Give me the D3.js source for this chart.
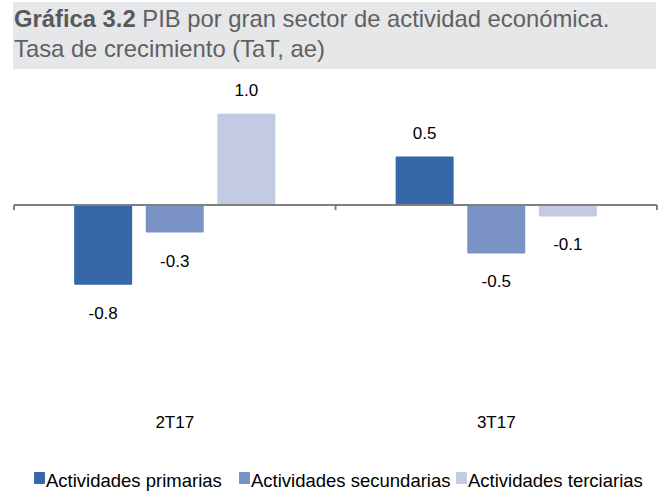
<!DOCTYPE html>
<html>
<head>
<meta charset="utf-8">
<script src="https://cdn.jsdelivr.net/npm/d3@7"></script>
<style>
  body { margin: 0; background: #fff; }
  svg { display: block; font-family: "Liberation Sans", Arial, sans-serif; }
</style>
</head>
<body>
<svg id="chart"></svg>
<script>
    // Data
    var periods = ["2T17", "3T17"]
    var seriesNames = ["Actividades primarias", "Actividades secundarias", "Actividades terciarias"]
    var primarias = [-0.84, 0.51]
    var secundarias = [-0.29, -0.51]
    var terciarias = [0.96, -0.12]
    var colors = ["#3668a9", "#7a93c4", "#c3cbe3"]

    var allSeries = [primarias, secundarias, terciarias]

    var width = 662, height = 501

    // plain hyphen for negatives, like the source
    var fmt = d3.formatLocale({decimal: ".", thousands: ",", grouping: [3], currency: ["", ""], minus: "-"}).format(".1f")

    var svg = d3.select("#chart")
        .attr("width", width)
        .attr("height", height)

    // Title band
    svg.append("rect")
        .attr("x", 13)
        .attr("y", 2)
        .attr("width", 643)
        .attr("height", 67)
        .attr("fill", "#e6e7e8");

    var title = svg.append("text")
        .attr("x", 14)
        .attr("y", 27)
        .style("font-size", "23.8px")
        .attr("fill", "#5f6062");
    title.append("tspan").style("font-weight", "bold").attr("fill", "#58595b").text("Gráfica 3.2");
    title.append("tspan").text(" PIB por gran sector de actividad económica.");
    svg.append("text")
        .attr("x", 14)
        .attr("y", 57)
        .style("font-size", "23.8px")
        .attr("fill", "#5f6062")
        .text("Tasa de crecimiento (TaT, ae)");

    // Scales
    var x0 = d3.scaleBand()
        .domain(periods)
        .range([14, 657])
        .padding(0);

    var x1 = d3.scaleBand()
        .domain(seriesNames)
        .range([0, x0.bandwidth()])
        .paddingInner(0.19)
        .paddingOuter(0.84);

    var y = d3.scaleLinear()
        .domain([-1.5, 1.2])
        .range([347.5, 91]);

    // Bars
    var groups = svg.selectAll(".grp")
        .data(periods)
        .enter()
        .append("g")
        .attr("class", "grp")
        .attr("transform", (d) => "translate(" + x0(d) + ",0)");

    groups.each(function(p, i) {
        var g = d3.select(this)
        var rows = seriesNames.map((s, j) => ({ name: s, value: allSeries[j][i], color: colors[j] }))

        g.selectAll("rect")
            .data(rows)
            .enter()
            .append("rect")
            .attr("x", (d) => x1(d.name))
            .attr("y", (d) => y(Math.max(0, d.value)))
            .attr("width", x1.bandwidth())
            .attr("height", (d) => Math.abs(y(d.value) - y(0)))
            .attr("rx", 1)
            .attr("fill", (d) => d.color);

        g.selectAll(".lbl")
            .data(rows)
            .enter()
            .append("text")
            .attr("class", "lbl")
            .attr("x", (d) => x1(d.name) + x1.bandwidth() / 2)
            .attr("y", (d) => d.value >= 0 ? y(d.value) - 18 : y(d.value) + 34)
            .style("text-anchor", "middle")
            .style("font-size", "17px")
            .attr("fill", "#000")
            .text((d) => fmt(d.value));
    });

    // Zero axis with ticks between categories
    var xAxis = svg.append("g")
        .attr("transform", "translate(0," + y(0) + ")")
        .call(d3.axisBottom(x0).tickSize(0).tickFormat(""));
    xAxis.select(".domain").remove();
    xAxis.append("line")
        .attr("x1", 14).attr("x2", 657)
        .attr("stroke", "#808080")
        .attr("stroke-width", 2);
    xAxis.selectAll(".sep")
        .data([14, x0("3T17"), 657])
        .enter()
        .append("line")
        .attr("class", "sep")
        .attr("x1", (d) => d).attr("x2", (d) => d)
        .attr("y1", 0).attr("y2", 5)
        .attr("stroke", "#808080")
        .attr("stroke-width", 2);

    // Category labels
    svg.selectAll(".cat")
        .data(periods)
        .enter()
        .append("text")
        .attr("class", "cat")
        .attr("x", (d) => x0(d) + x0.bandwidth() / 2)
        .attr("y", 428)
        .style("text-anchor", "middle")
        .style("font-size", "17px")
        .text((d) => d);

    // Legend
    var legendX = [34, 239, 456]
    var legend = svg.selectAll(".leg")
        .data(seriesNames)
        .enter()
        .append("g")
        .attr("class", "leg")
        .attr("transform", (d, i) => "translate(" + legendX[i] + ",472)");
    legend.append("rect")
        .attr("width", 11)
        .attr("height", 12)
        .attr("rx", 1)
        .attr("fill", (d, i) => colors[i]);
    legend.append("text")
        .attr("x", 12)
        .attr("y", 15)
        .style("font-size", "18.5px")
        .text((d) => d);
</script>
</body>
</html>
